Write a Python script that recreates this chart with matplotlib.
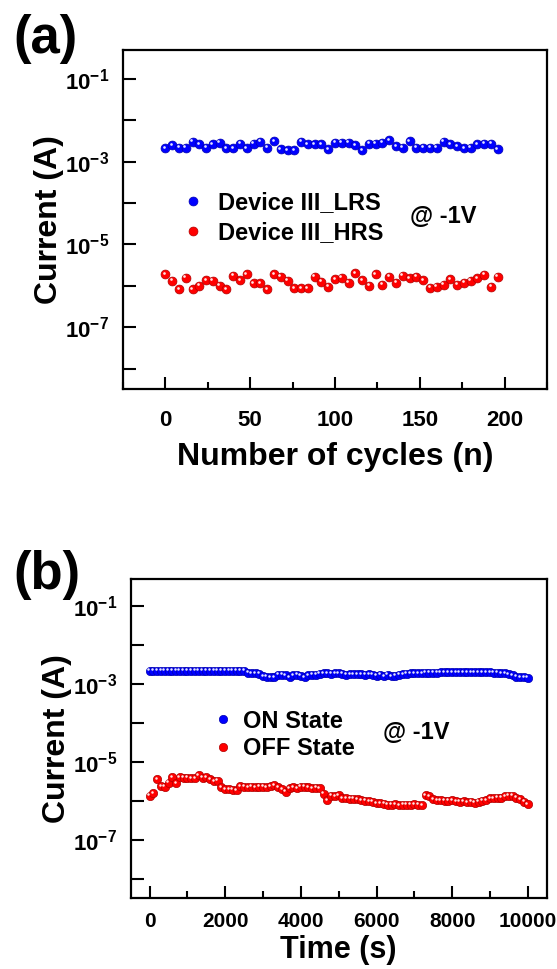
import numpy as np
import matplotlib
matplotlib.use("Agg")
import matplotlib.pyplot as plt
import matplotlib.transforms as mtransforms
from matplotlib.ticker import LogLocator, FuncFormatter, MultipleLocator, NullLocator

plt.rcParams['font.family'] = ['Liberation Sans', 'DejaVu Sans']
plt.rcParams['font.weight'] = 'bold'
plt.rcParams['mathtext.fontset'] = 'custom'
plt.rcParams['mathtext.rm'] = 'Liberation Sans:bold'
plt.rcParams['mathtext.bf'] = 'Liberation Sans:bold'

# ---- panel (a): endurance, 50 cycles ----
cycles = np.arange(0, 200, 4)
lrs_mA = [2.10, 2.52, 2.17, 2.17, 3.04, 2.62, 2.17, 2.62, 2.87, 2.10,
          2.10, 2.72, 2.10, 2.72, 3.04, 2.17, 3.15, 1.98, 1.91, 1.91,
          3.04, 2.62, 2.62, 2.62, 1.98, 2.87, 2.87, 2.87, 2.52, 1.87,
          2.72, 2.72, 2.87, 3.27, 2.39, 2.17, 3.15, 2.17, 2.17, 2.17,
          2.17, 3.04, 2.62, 2.39, 2.10, 2.17, 2.62, 2.72, 2.72, 1.98]
hrs_uA = [1.92, 1.32, 0.83, 1.59, 0.83, 1.00, 1.37, 1.32, 1.00, 0.83,
          1.75, 1.37, 1.92, 1.14, 1.14, 0.83, 1.92, 1.65, 1.32, 0.88,
          0.88, 0.88, 1.65, 1.27, 0.95, 1.45, 1.59, 1.20, 1.99, 1.37,
          1.00, 1.92, 1.06, 1.65, 1.20, 1.75, 1.53, 1.65, 1.37, 0.91,
          0.95, 1.06, 1.45, 1.06, 1.20, 1.32, 1.53, 1.85, 0.95, 1.65]

# ---- panel (b): retention, every 100 s ----
time_s = np.arange(0, 10001, 100)
on_mA = [2.20, 2.20, 2.20, 2.20, 2.20, 2.20, 2.20, 2.20, 2.20, 2.20,
         2.20, 2.20, 2.20, 2.20, 2.20, 2.19, 2.19, 2.19, 2.19, 2.19,
         2.19, 2.19, 2.18, 2.18, 2.18, 2.18, 1.95, 1.92, 1.90, 1.85,
         1.60, 1.55, 1.50, 1.48, 1.72, 1.75, 1.70, 1.52, 1.70, 1.72,
         1.62, 1.50, 1.70, 1.75, 1.72, 1.85, 1.88, 1.88, 1.85, 1.88,
         1.88, 1.85, 1.75, 1.80, 1.78, 1.82, 1.80, 1.75, 1.78, 1.72,
         1.65, 1.72, 1.60, 1.72, 1.58, 1.65, 1.72, 1.78, 1.85, 1.88,
         1.90, 1.92, 1.93, 1.94, 1.95, 1.96, 1.97, 1.98, 1.99, 2.00,
         2.00, 2.00, 2.01, 2.01, 2.01, 2.00, 2.00, 2.00, 2.00, 1.99,
         1.98, 1.97, 1.95, 1.93, 1.90, 1.82, 1.70, 1.55, 1.50, 1.48,
         1.45]
off_uA = [1.35, 1.55, 3.60, 2.40, 2.30, 2.90, 4.00, 2.80, 4.00, 3.90,
          3.90, 3.80, 3.80, 4.50, 3.90, 4.10, 3.60, 3.20, 3.30, 2.20,
          2.00, 2.00, 1.90, 1.85, 2.40, 2.30, 2.25, 2.30, 2.25, 2.30,
          2.30, 2.25, 2.40, 2.50, 2.20, 1.95, 1.70, 2.10, 2.20, 2.10,
          2.30, 2.30, 2.20, 2.10, 2.15, 2.10, 1.50, 1.05, 1.35, 1.30,
          1.40, 1.15, 1.15, 1.12, 1.12, 1.10, 1.05, 1.00, 0.98, 0.95,
          0.88, 0.85, 0.84, 0.80, 0.80, 0.82, 0.78, 0.80, 0.79, 0.80,
          0.82, 0.80, 0.78, 1.40, 1.30, 1.10, 1.05, 1.05, 1.00, 1.00,
          1.02, 0.98, 0.95, 0.97, 0.92, 0.95, 0.90, 0.95, 1.00, 1.05,
          1.15, 1.18, 1.20, 1.20, 1.30, 1.35, 1.35, 1.20, 1.10, 0.95,
          0.82]


def balls(ax, x, y, color, dark, label, ms):
    ax.plot(x, y, 'o', ms=ms, mfc=color, mec=dark, mew=0.5, ls='none', label=label)
    shift = mtransforms.ScaledTranslation(-1.0 / 72, 1.0 / 72, ax.figure.dpi_scale_trans)
    ax.plot(x, y, 'o', ms=ms * 0.3, mfc='white', mec='none', ls='none', alpha=0.9,
            transform=ax.transData + shift)


def log_label(v, pos):
    e = int(round(np.log10(v)))
    if e % 2 != 0:
        return r'$\mathbf{10^{%d}}$' % e
    return ''


def style(ax, xmaj, xmin, xsize, xpad):
    ax.set_yscale('log')
    ax.set_ylim(10 ** -8.5, 0.5)
    ax.yaxis.set_major_locator(LogLocator(base=10, numticks=20))
    ax.yaxis.set_minor_locator(NullLocator())
    ax.yaxis.set_major_formatter(FuncFormatter(log_label))
    ax.xaxis.set_major_locator(MultipleLocator(xmaj))
    ax.xaxis.set_minor_locator(MultipleLocator(xmin))
    for s in ax.spines.values():
        s.set_linewidth(1.6)
    ax.tick_params(axis='x', which='major', direction='in', length=9, width=1.5,
                   pad=xpad, labelsize=xsize, top=False)
    ax.tick_params(axis='x', which='minor', direction='in', length=4.8, width=1.5, top=False)
    ax.tick_params(axis='y', which='major', direction='in', length=9.4, width=1.5,
                   pad=10, labelsize=16, right=False)
    for lab in ax.get_xticklabels():
        lab.set_fontweight('bold')


fig = plt.figure(figsize=(5.57, 9.69), dpi=100)

# (a)
ax1 = fig.add_axes([123 / 557, 1 - 389.3 / 969, 424 / 557, 339.3 / 969])
balls(ax1, cycles, np.array(lrs_mA) * 1e-3, '#0000ff', '#0000b0', 'Device III_LRS', 6.4)
balls(ax1, cycles, np.array(hrs_uA) * 1e-6, '#ff0000', '#b00000', 'Device III_HRS', 6.4)
ax1.set_xlim(-25, 225)
style(ax1, 50, 25, 16, 15)
ax1.set_xlabel('Number of cycles (n)', fontsize=23, fontweight='bold', labelpad=8)
ax1.set_ylabel('Current (A)', fontsize=23, fontweight='bold')
ax1.yaxis.set_label_coords(-0.14, 0.5)
ax1.legend(loc='center left', bbox_to_anchor=(0.137, 0.505), frameon=False,
           handlelength=1, handletextpad=0.56, borderpad=0, borderaxespad=0,
           labelspacing=0.3, prop={'weight': 'bold', 'size': 17})
ax1.text(0.677, 0.508, '@ -1V', transform=ax1.transAxes, fontsize=17,
         fontweight='bold', ha='left', va='center')

# (b)
ax2 = fig.add_axes([130.7 / 557, 1 - 898 / 969, 416 / 557, 319 / 969])
balls(ax2, time_s, np.array(on_mA) * 1e-3, '#0000ff', '#0000b0', 'ON State', 6.0)
balls(ax2, time_s, np.array(off_uA) * 1e-6, '#ff0000', '#b00000', 'OFF State', 6.0)
ax2.set_xlim(-500, 10500)
style(ax2, 2000, 1000, 15, 10)
ax2.set_xlabel('Time (s)', fontsize=22, fontweight='bold')
ax2.xaxis.set_label_coords(0.5, -0.115)
ax2.set_ylabel('Current (A)', fontsize=23, fontweight='bold')
ax2.yaxis.set_label_coords(-0.14, 0.5)
ax2.legend(loc='center left', bbox_to_anchor=(0.1935, 0.511), frameon=False,
           handlelength=1, handletextpad=0.35, borderpad=0, borderaxespad=0,
           labelspacing=0.2, prop={'weight': 'bold', 'size': 17})
ax2.text(0.6065, 0.52, '@ -1V', transform=ax2.transAxes, fontsize=17,
         fontweight='bold', ha='left', va='center')

fig.text(13 / 557, 1 - 39 / 969, '(a)', fontsize=38, fontweight='bold', ha='left', va='center')
fig.text(13 / 557, 1 - 575 / 969, '(b)', fontsize=38, fontweight='bold', ha='left', va='center')

fig.savefig('out.png', dpi=100)
